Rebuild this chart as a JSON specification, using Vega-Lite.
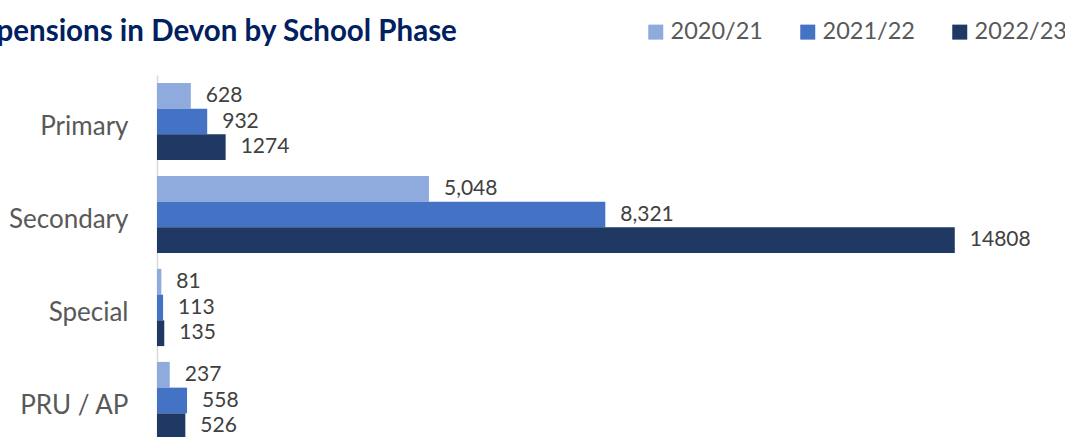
{
  "$schema": "https://vega.github.io/schema/vega-lite/v6.json",
  "width": 862,
  "height": 372,
  "autosize": {"type": "none"},
  "padding": {"left": 157, "top": 75, "right": 46, "bottom": 0},
  "background": "white",
  "config": {"view": {"stroke": null}, "font": "Lato"},
  "title": {
    "text": "Suspensions in Devon by School Phase",
    "anchor": "start",
    "frame": "group",
    "font": "Lato",
    "fontSize": 29.5,
    "fontWeight": "bold",
    "color": "#002060",
    "dx": -206,
    "dy": 50,
    "baseline": "alphabetic",
    "offset": 0
  },
  "data": {
    "values": [
      {"phase": "Primary", "year": "2020/21", "value": 628, "label": "628"},
      {"phase": "Primary", "year": "2021/22", "value": 932, "label": "932"},
      {"phase": "Primary", "year": "2022/23", "value": 1274, "label": "1274"},
      {"phase": "Secondary", "year": "2020/21", "value": 5048, "label": "5,048"},
      {"phase": "Secondary", "year": "2021/22", "value": 8321, "label": "8,321"},
      {"phase": "Secondary", "year": "2022/23", "value": 14808, "label": "14808"},
      {"phase": "Special", "year": "2020/21", "value": 81, "label": "81"},
      {"phase": "Special", "year": "2021/22", "value": 113, "label": "113"},
      {"phase": "Special", "year": "2022/23", "value": 135, "label": "135"},
      {"phase": "PRU / AP", "year": "2020/21", "value": 237, "label": "237"},
      {"phase": "PRU / AP", "year": "2021/22", "value": 558, "label": "558"},
      {"phase": "PRU / AP", "year": "2022/23", "value": 526, "label": "526"}
    ]
  },
  "encoding": {
    "y": {
      "field": "phase",
      "type": "nominal",
      "sort": ["Primary", "Secondary", "Special", "PRU / AP"],
      "scale": {"paddingInner": 0.17, "paddingOuter": 0.085},
      "axis": {
        "title": null,
        "ticks": false,
        "domainColor": "#d9d9d9",
        "domainWidth": 1.5,
        "labelFont": "Lato",
        "labelFontSize": 26,
        "labelColor": "#595959",
        "labelPadding": 29,
        "labelOffset": 5
      }
    },
    "yOffset": {
      "field": "year",
      "type": "nominal",
      "sort": ["2020/21", "2021/22", "2022/23"],
      "scale": {"paddingInner": 0, "paddingOuter": 0}
    },
    "x": {
      "field": "value",
      "type": "quantitative",
      "scale": {"domain": [0, 16000], "nice": false},
      "axis": null
    }
  },
  "layer": [
    {
      "mark": {"type": "bar"},
      "encoding": {
        "color": {
          "field": "year",
          "type": "nominal",
          "sort": ["2020/21", "2021/22", "2022/23"],
          "scale": {"range": ["#8faadc", "#4472c4", "#203864"]},
          "legend": {
            "title": null,
            "orient": "none",
            "direction": "horizontal",
            "legendX": 487,
            "legendY": -55,
            "symbolType": "square",
            "symbolSize": 225,
            "symbolStrokeWidth": 0,
            "labelFont": "Lato",
            "labelFontSize": 23.5,
            "labelColor": "#595959",
            "labelOffset": 3,
            "columnPadding": 33
          }
        }
      }
    },
    {
      "mark": {"type": "text", "align": "left", "baseline": "middle", "dx": 15, "fontSize": 21, "font": "Lato", "color": "#404040"},
      "encoding": {"text": {"field": "label"}}
    }
  ]
}
